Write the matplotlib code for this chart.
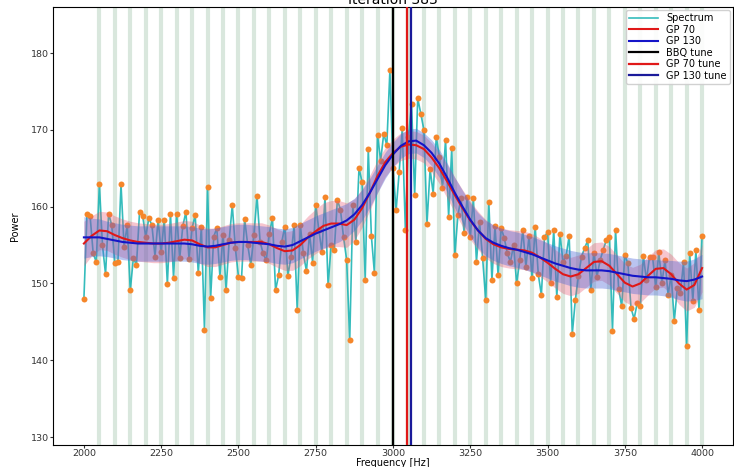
import numpy as np
import matplotlib
matplotlib.use("Agg")
import matplotlib.pyplot as plt

# Measured power spectrum, 10 Hz bins from 2000 Hz to 4000 Hz
freq = np.arange(2000, 4001, 10)
power = [
    148.0, 159.1, 158.8, 153.9, 152.8, 162.9, 155.0, 151.2, 159.1, 157.6,  # 2000-2090
    152.6, 152.8, 162.9, 154.8, 157.6, 149.1, 153.3, 152.4, 159.3, 158.8,  # 2100-2190
    156.1, 158.5, 157.6, 153.5, 158.3, 154.1, 158.3, 149.9, 159.1, 150.7,  # 2200-2290
    159.1, 153.3, 157.5, 159.3, 153.2, 157.2, 158.9, 151.3, 157.4, 144.0,  # 2300-2390
    162.6, 148.1, 156.1, 157.2, 150.9, 156.3, 149.1, 155.6, 160.2, 154.6,  # 2400-2490
    150.9, 150.7, 158.4, 155.0, 152.4, 156.3, 161.4, 155.4, 153.9, 153.0,  # 2500-2590
    156.5, 158.5, 149.1, 151.1, 155.4, 157.4, 151.0, 153.5, 157.6, 146.6,  # 2600-2690
    157.6, 153.9, 151.6, 156.5, 152.7, 160.2, 157.0, 154.1, 161.3, 149.8,  # 2700-2790
    155.0, 154.3, 160.9, 159.6, 156.0, 153.1, 142.6, 160.2, 155.4, 165.0,  # 2800-2890
    163.2, 150.5, 167.5, 156.2, 151.3, 169.3, 166.0, 169.5, 168.0, 177.8,  # 2900-2990
    165.0, 159.5, 164.5, 170.2, 157.0, 169.1, 173.4, 161.5, 174.1, 172.1,  # 3000-3090
    170.0, 157.8, 164.9, 161.7, 169.1, 166.5, 162.4, 168.7, 158.7, 167.6,  # 3100-3190
    153.7, 158.9, 161.1, 156.6, 161.3, 156.1, 161.1, 152.8, 158.0, 153.3,  # 3200-3290
    147.8, 160.6, 150.4, 157.5, 151.1, 157.2, 155.9, 153.9, 152.8, 155.0,  # 3300-3390
    150.0, 153.0, 157.0, 152.1, 156.2, 150.7, 157.4, 151.2, 148.5, 156.0,  # 3400-3490
    156.7, 150.1, 157.0, 148.2, 156.5, 152.8, 153.6, 156.2, 143.4, 147.9,  # 3500-3590
    151.0, 153.5, 154.6, 155.6, 149.2, 154.0, 150.9, 153.0, 154.4, 155.6,  # 3600-3690
    156.1, 143.8, 157.0, 149.3, 147.0, 153.7, 152.6, 146.8, 145.4, 147.4,  # 3700-3790
    147.0, 153.6, 150.4, 153.5, 153.4, 149.5, 154.1, 150.0, 153.1, 148.5,  # 3800-3890
    151.1, 145.1, 149.4, 148.8, 152.8, 141.9, 153.9, 147.7, 154.3, 146.5,  # 3900-3990
    156.2,                                                                 # 4000
]

# Gaussian-process fits (mean and standard deviation) on a 25 Hz grid
gp_freq = np.arange(2000, 4001, 25)
gp70_mean = [
    155.2, 156.2, 156.9, 156.8, 156.3, 155.9, 155.6, 155.4,
    155.3, 155.2, 155.2, 155.3, 155.5, 155.7, 155.6, 155.1,
    154.7, 154.7, 155.0, 155.3, 155.4, 155.4, 155.4, 155.4,
    155.1, 154.6, 154.2, 154.3, 155.0, 156.0, 156.8, 157.5,
    157.8, 157.8, 157.6, 158.3, 159.8, 161.8, 164.0, 165.8,
    167.0, 167.8, 168.1, 168.0, 167.5, 166.4, 165.0, 163.3,
    161.5, 159.8, 158.2, 156.9, 155.8, 155.1, 154.7, 154.5,
    154.4, 154.3, 154.0, 153.4, 152.7, 151.9, 151.2, 150.9,
    151.2, 152.0, 152.8, 152.9, 152.3, 151.2, 150.1, 149.6,
    150.0, 151.0, 151.9, 152.0, 151.2, 150.0, 149.2, 149.8,
    152.0,
]
gp70_std = [
    2.9, 2.6, 2.5, 2.5, 2.5, 2.5, 2.5, 2.5,
    2.5, 2.5, 2.5, 2.5, 2.5, 2.5, 2.5, 2.5,
    2.5, 2.5, 2.5, 2.5, 2.5, 2.5, 2.5, 2.5,
    2.5, 2.5, 2.5, 2.6, 2.7, 2.8, 2.9, 3.0,
    3.0, 3.0, 2.9, 2.7, 2.5, 2.3, 2.1, 1.9,
    1.8, 1.8, 1.8, 1.8, 1.8, 1.9, 2.0, 2.2,
    2.3, 2.4, 2.5, 2.5, 2.5, 2.5, 2.5, 2.5,
    2.5, 2.5, 2.5, 2.5, 2.5, 2.5, 2.5, 2.5,
    2.5, 2.5, 2.5, 2.5, 2.5, 2.5, 2.5, 2.5,
    2.5, 2.5, 2.5, 2.5, 2.6, 2.7, 2.8, 2.9,
    3.1,
]
gp130_mean = [
    156.0, 156.0, 156.0, 155.8, 155.6, 155.4, 155.3, 155.2,
    155.2, 155.2, 155.2, 155.2, 155.2, 155.2, 155.1, 154.9,
    154.8, 154.9, 155.1, 155.3, 155.4, 155.4, 155.3, 155.2,
    155.1, 154.9, 154.8, 155.0, 155.5, 156.0, 156.5, 156.9,
    157.3, 157.7, 158.2, 159.0, 160.2, 161.8, 163.6, 165.4,
    166.8, 167.9, 168.5, 168.6, 168.0, 167.0, 165.6, 163.8,
    161.8, 160.0, 158.3, 156.9, 155.9, 155.3, 154.9, 154.6,
    154.4, 154.1, 153.8, 153.4, 153.0, 152.6, 152.3, 152.0,
    151.8, 151.7, 151.7, 151.7, 151.6, 151.4, 151.2, 151.0,
    150.9, 150.8, 150.8, 150.7, 150.6, 150.4, 150.3, 150.5,
    150.9,
]
gp130_std = [
    2.7, 2.5, 2.4, 2.3, 2.3, 2.3, 2.3, 2.3,
    2.3, 2.3, 2.3, 2.3, 2.3, 2.3, 2.3, 2.3,
    2.3, 2.3, 2.3, 2.3, 2.3, 2.3, 2.3, 2.3,
    2.3, 2.3, 2.3, 2.3, 2.3, 2.3, 2.3, 2.3,
    2.3, 2.3, 2.2, 2.1, 2.0, 1.9, 1.8, 1.7,
    1.6, 1.6, 1.6, 1.6, 1.6, 1.7, 1.8, 1.9,
    2.0, 2.1, 2.2, 2.3, 2.3, 2.3, 2.3, 2.3,
    2.3, 2.3, 2.3, 2.3, 2.3, 2.3, 2.3, 2.3,
    2.3, 2.3, 2.3, 2.3, 2.3, 2.3, 2.3, 2.3,
    2.3, 2.3, 2.3, 2.3, 2.4, 2.5, 2.6, 2.7,
    2.9,
]

# Mains harmonics and tune estimates
harmonics = np.arange(2050, 4001, 50)
bbq_tune = 3000
gp70_tune = 3045
gp130_tune = 3058

iteration = 383

fig = plt.figure(figsize=(7.34, 4.67), dpi=100)
ax = fig.add_axes([53 / 734, 22 / 467, 680 / 734, 438 / 467])

for h in harmonics:
    ax.axvline(h, color="#d9e7dd", lw=3, zorder=0)

ax.plot(freq, power, color="#1fb5b5", lw=1.2, alpha=0.9, zorder=2, label="Spectrum")
ax.plot(freq, power, "o", color="#f5862a", ms=4.3, mec="none", zorder=3)

g70m = np.asarray(gp70_mean)
g70s = np.asarray(gp70_std)
g130m = np.asarray(gp130_mean)
g130s = np.asarray(gp130_std)
ax.fill_between(gp_freq, g70m - g70s, g70m + g70s, color="#e8506e", alpha=0.33, lw=0, zorder=4)
ax.fill_between(gp_freq, g130m - g130s, g130m + g130s, color="#4a66d8", alpha=0.38, lw=0, zorder=4)
ax.plot(gp_freq, g70m, color="#e01818", lw=1.5, zorder=5, label="GP 70")
ax.plot(gp_freq, g130m, color="#1414c8", lw=1.5, zorder=5, label="GP 130")

ax.axvline(bbq_tune, color="black", lw=1.6, zorder=6, label="BBQ tune")
ax.axvline(gp70_tune, color="#e01818", lw=1.6, zorder=6, label="GP 70 tune")
ax.axvline(gp130_tune, color="#1a1a9a", lw=1.6, zorder=6, label="GP 130 tune")

ax.set_xlim(1900, 4100)
ax.set_ylim(128.96, 186.0)
ax.set_xticks(np.arange(2000, 4001, 250))
ax.set_yticks(np.arange(130, 181, 10))
ax.tick_params(labelsize=6.8, colors="#333333", length=2, pad=0.8)
ax.set_xlabel("Frequency [Hz]", fontsize=7)
ax.xaxis.set_label_coords(0.5, -0.029)
ax.set_ylabel("Power", fontsize=7, labelpad=8)
ax.set_title(f"Iteration {iteration}", fontsize=10, pad=1)

ax.legend(loc="upper right", fontsize=7, framealpha=0.9, handlelength=3,
          borderaxespad=0.3, labelspacing=0.15, borderpad=0.35)

fig.savefig("out.png", dpi=100)
